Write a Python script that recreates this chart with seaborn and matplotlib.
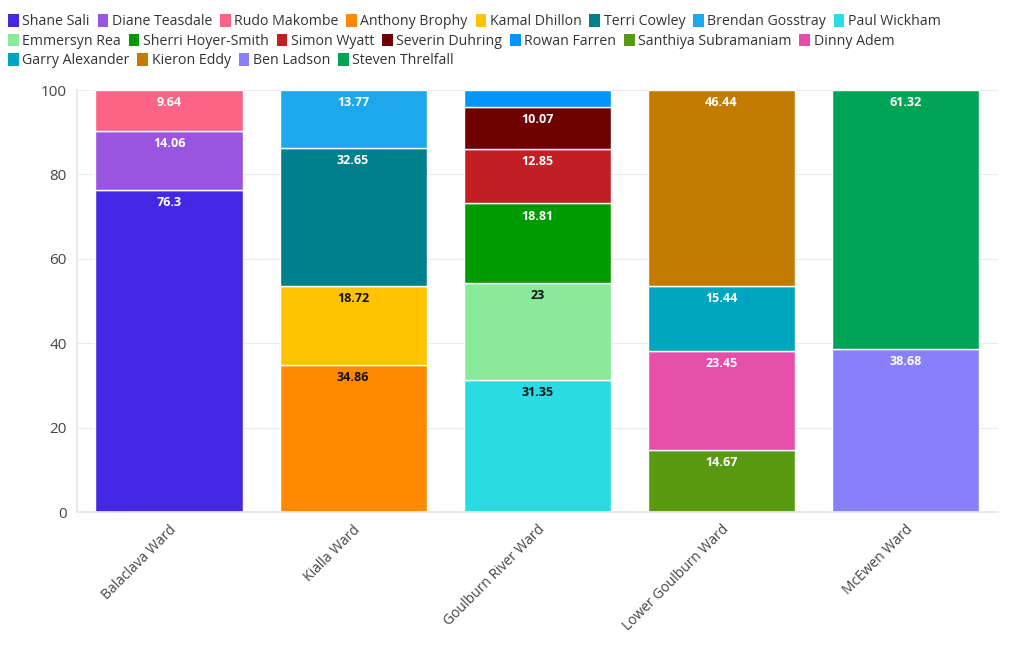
import matplotlib
matplotlib.use("Agg")
import matplotlib.pyplot as plt
from matplotlib.patches import Patch
import pandas as pd
import seaborn as sns

# wards (x categories)
WARDS = ["Balaclava Ward", "Kialla Ward", "Goulburn River Ward",
         "Lower Goulburn Ward", "McEwen Ward"]

# candidates in stacking / legend order, with their ward and share (%)
CANDIDATES = ["Shane Sali", "Diane Teasdale", "Rudo Makombe",
              "Anthony Brophy", "Kamal Dhillon", "Terri Cowley", "Brendan Gosstray",
              "Paul Wickham", "Emmersyn Rea", "Sherri Hoyer-Smith", "Simon Wyatt",
              "Severin Duhring", "Rowan Farren",
              "Santhiya Subramaniam", "Dinny Adem", "Garry Alexander", "Kieron Eddy",
              "Ben Ladson", "Steven Threlfall"]
CAND_WARD = [0, 0, 0,
             1, 1, 1, 1,
             2, 2, 2, 2, 2, 2,
             3, 3, 3, 3,
             4, 4]
VALUES = [76.3, 14.06, 9.64,
          34.86, 18.72, 32.65, 13.77,
          31.35, 23, 18.81, 12.85, 10.07, 3.92,
          14.67, 23.45, 15.44, 46.44,
          38.68, 61.32]
COLORS = ["#4329e6", "#9a55e0", "#fd6386",
          "#ff8a00", "#ffc300", "#007f8c", "#1da8ec",
          "#2adbe3", "#8ae99a", "#009b00", "#c21f24", "#6e0000", "#0095ff",
          "#5a9a13", "#e74eaa", "#00a5c0", "#c17c00",
          "#8780fa", "#00a457"]
DARK_TEXT = {"Anthony Brophy", "Kamal Dhillon", "Paul Wickham", "Emmersyn Rea"}

# legend rows as they wrap in the original
LEGEND_ROWS = [CANDIDATES[0:8], CANDIDATES[8:15], CANDIDATES[15:19]]

sns.set_theme(style="white")
plt.rcParams["font.family"] = ["Open Sans", "DejaVu Sans"]

df = pd.DataFrame({"candidate": CANDIDATES,
                   "ward": [WARDS[i] for i in CAND_WARD],
                   "value": VALUES,
                   "color": COLORS})
df["bottom"] = df.groupby("ward")["value"].cumsum() - df["value"]

fig = plt.figure(figsize=(10.2, 6.5), dpi=100)
ax = fig.add_axes([0.0755, 0.2123, 0.9025, 0.6492])

for _, row in df.iterrows():
    sns.barplot(data=df[df["candidate"] == row["candidate"]], x="ward", y="value",
                order=WARDS, color=row["color"], bottom=row["bottom"],
                width=0.8, saturation=1, edgecolor="white", linewidth=1,
                errorbar=None, ax=ax)
    if row["value"] > 5:
        ax.annotate(f"{row['value']:g}",
                    xy=(WARDS.index(row["ward"]), row["bottom"] + row["value"]),
                    xytext=(0, -4.5), textcoords="offset points",
                    ha="center", va="top", fontsize=9, fontweight="bold",
                    color="#111111" if row["candidate"] in DARK_TEXT else "white")

ax.set_xlim(-0.5, 4.5)
ax.set_ylim(0, 100)
ax.set_yticks(range(0, 101, 20))
ax.set_xlabel("")
ax.set_ylabel("")
ax.grid(axis="y", color="#ebebeb", linewidth=0.8)
ax.set_axisbelow(True)
for side in ["top", "right"]:
    ax.spines[side].set_visible(False)
for side in ["left", "bottom"]:
    ax.spines[side].set_color("#e6e6e6")
ax.tick_params(axis="both", length=4, color="#e6e6e6", labelcolor="#444444")
ax.tick_params(axis="y", labelsize=11)
plt.setp(ax.get_xticklabels(), rotation=45, ha="right", rotation_mode="anchor",
         fontsize=10)

# legend, one row per call so it flows left to right like the original
color_of = dict(zip(CANDIDATES, COLORS))
row_y = [0.978, 0.948, 0.918]
for names, y in zip(LEGEND_ROWS, row_y):
    handles = [Patch(facecolor=color_of[n], edgecolor="none") for n in names]
    fig.legend(handles, names, loc="upper left", bbox_to_anchor=(0.008, y),
               ncol=len(names), frameon=False, fontsize=10.2, handlelength=0.75,
               handleheight=1.0, handletextpad=0.25, columnspacing=0.55,
               borderaxespad=0, borderpad=0, labelcolor="#333333")

fig.savefig("out.png", dpi=100)
